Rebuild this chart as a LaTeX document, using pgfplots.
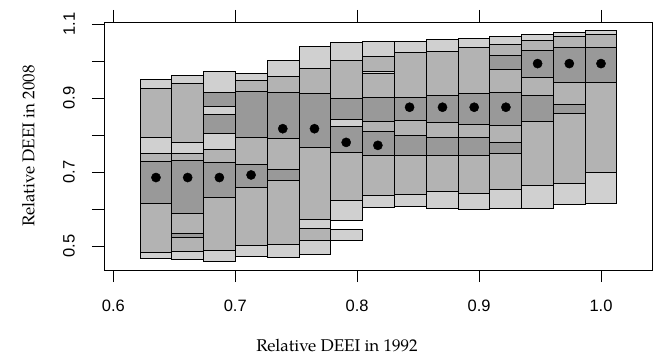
\documentclass[border=0pt]{standalone}
\usepackage{pgfplots}
\pgfplotsset{compat=1.18}
\usepackage{fontspec}
\newfontfamily\labfont{TeX Gyre Pagella}
\newfontfamily\tickfont{Liberation Sans}
\definecolor{cL}{RGB}{208,208,208}
\definecolor{cM}{RGB}{179,179,179}
\definecolor{cD}{RGB}{153,153,153}
\newcommand{\rect}[5]{\addplot[fill=#1,draw=black,line width=0.9pt] coordinates {(#2,#4) (#3,#4) (#3,#5) (#2,#5)} -- cycle;}
\begin{document}
\begin{tikzpicture}
\useasboundingbox (-104pt,-90pt) rectangle (550pt,270pt);
\begin{axis}[
  at={(0pt,0pt)}, anchor=south west,
  scale only axis, width=548pt, height=248pt,
  xmin=0.59237, xmax=1.04183, ymin=0.43505, ymax=1.1054,
  clip=false,
  axis line style={line width=0.9pt},
  xtick={0.6,0.7,0.8,0.9,1.0},
  xticklabels={0.6,0.7,0.8,0.9,1.0},
  ytick={0.5,0.6,0.7,0.8,0.9,1.0,1.1},
  yticklabels={0.5,,0.7,,0.9,,1.1},
  xtick pos=both, xticklabel pos=bottom,
  ytick pos=left,
  tick align=outside,
  major tick length=12pt,
  tick style={black, line width=0.9pt},
  xticklabel style={font=\tickfont\fontsize{16.5}{18}\selectfont, inner sep=0pt, anchor=north, yshift=-18pt},
  yticklabel style={font=\tickfont\fontsize{16.5}{18}\selectfont, rotate=90, inner sep=0pt, anchor=south, yshift=17pt},
]
% column 1
\rect{cL}{0.6220}{0.6480}{0.949}{0.927}
\rect{cM}{0.6220}{0.6480}{0.927}{0.794}
\rect{cL}{0.6220}{0.6480}{0.794}{0.751}
\rect{cM}{0.6220}{0.6480}{0.751}{0.728}
\rect{cD}{0.6220}{0.6480}{0.728}{0.614}
\rect{cM}{0.6220}{0.6480}{0.614}{0.483}
\rect{cL}{0.6220}{0.6480}{0.483}{0.467}
% column 2
\rect{cL}{0.6480}{0.6741}{0.961}{0.938}
\rect{cM}{0.6480}{0.6741}{0.938}{0.781}
\rect{cL}{0.6480}{0.6741}{0.781}{0.751}
\rect{cM}{0.6480}{0.6741}{0.751}{0.730}
\rect{cD}{0.6480}{0.6741}{0.730}{0.588}
\rect{cM}{0.6480}{0.6741}{0.588}{0.534}
\rect{cD}{0.6480}{0.6741}{0.534}{0.523}
\rect{cM}{0.6480}{0.6741}{0.523}{0.485}
\rect{cL}{0.6480}{0.6741}{0.485}{0.464}
% column 3
\rect{cL}{0.6741}{0.7002}{0.972}{0.915}
\rect{cD}{0.6741}{0.7002}{0.915}{0.877}
\rect{cL}{0.6741}{0.7002}{0.877}{0.855}
\rect{cD}{0.6741}{0.7002}{0.855}{0.803}
\rect{cL}{0.6741}{0.7002}{0.803}{0.760}
\rect{cM}{0.6741}{0.7002}{0.760}{0.725}
\rect{cD}{0.6741}{0.7002}{0.725}{0.632}
\rect{cM}{0.6741}{0.7002}{0.632}{0.487}
\rect{cL}{0.6741}{0.7002}{0.487}{0.459}
% column 4
\rect{cL}{0.7002}{0.7263}{0.967}{0.947}
\rect{cM}{0.7002}{0.7263}{0.947}{0.919}
\rect{cD}{0.7002}{0.7263}{0.919}{0.794}
\rect{cM}{0.7002}{0.7263}{0.794}{0.721}
\rect{cD}{0.7002}{0.7263}{0.721}{0.658}
\rect{cM}{0.7002}{0.7263}{0.658}{0.501}
\rect{cL}{0.7002}{0.7263}{0.501}{0.471}
% column 5
\rect{cL}{0.7263}{0.7523}{1.001}{0.958}
\rect{cM}{0.7263}{0.7523}{0.958}{0.916}
\rect{cD}{0.7263}{0.7523}{0.916}{0.790}
\rect{cM}{0.7263}{0.7523}{0.790}{0.708}
\rect{cD}{0.7263}{0.7523}{0.708}{0.677}
\rect{cM}{0.7263}{0.7523}{0.677}{0.505}
\rect{cL}{0.7263}{0.7523}{0.505}{0.468}
% column 6
\rect{cL}{0.7523}{0.7784}{1.039}{0.979}
\rect{cM}{0.7523}{0.7784}{0.979}{0.913}
\rect{cD}{0.7523}{0.7784}{0.913}{0.767}
\rect{cM}{0.7523}{0.7784}{0.767}{0.573}
\rect{cL}{0.7523}{0.7784}{0.573}{0.548}
\rect{cM}{0.7523}{0.7784}{0.548}{0.514}
\rect{cL}{0.7523}{0.7784}{0.514}{0.478}
% column 7
\rect{cL}{0.7784}{0.8045}{1.049}{1.001}
\rect{cM}{0.7784}{0.8045}{1.001}{0.900}
\rect{cD}{0.7784}{0.8045}{0.900}{0.841}
\rect{cL}{0.7784}{0.8045}{0.841}{0.823}
\rect{cD}{0.7784}{0.8045}{0.823}{0.754}
\rect{cM}{0.7784}{0.8045}{0.754}{0.624}
\rect{cL}{0.7784}{0.8045}{0.624}{0.569}
\rect{cL}{0.7784}{0.8045}{0.545}{0.516}
% column 8
\rect{cL}{0.8045}{0.8305}{1.053}{1.013}
\rect{cM}{0.8045}{0.8305}{1.013}{0.972}
\rect{cL}{0.8045}{0.8305}{0.972}{0.965}
\rect{cM}{0.8045}{0.8305}{0.965}{0.901}
\rect{cD}{0.8045}{0.8305}{0.901}{0.836}
\rect{cM}{0.8045}{0.8305}{0.836}{0.809}
\rect{cD}{0.8045}{0.8305}{0.809}{0.746}
\rect{cM}{0.8045}{0.8305}{0.746}{0.636}
\rect{cL}{0.8045}{0.8305}{0.636}{0.604}
% column 9
\rect{cL}{0.8305}{0.8566}{1.053}{1.024}
\rect{cM}{0.8305}{0.8566}{1.024}{0.901}
\rect{cD}{0.8305}{0.8566}{0.901}{0.839}
\rect{cM}{0.8305}{0.8566}{0.839}{0.800}
\rect{cD}{0.8305}{0.8566}{0.800}{0.746}
\rect{cM}{0.8305}{0.8566}{0.746}{0.638}
\rect{cL}{0.8305}{0.8566}{0.638}{0.608}
% column 10
\rect{cL}{0.8566}{0.8827}{1.058}{1.026}
\rect{cM}{0.8566}{0.8827}{1.026}{0.906}
\rect{cD}{0.8566}{0.8827}{0.906}{0.835}
\rect{cM}{0.8566}{0.8827}{0.835}{0.794}
\rect{cD}{0.8566}{0.8827}{0.794}{0.746}
\rect{cM}{0.8566}{0.8827}{0.746}{0.647}
\rect{cL}{0.8566}{0.8827}{0.647}{0.602}
% column 11
\rect{cL}{0.8827}{0.9088}{1.060}{1.037}
\rect{cM}{0.8827}{0.9088}{1.037}{0.911}
\rect{cD}{0.8827}{0.9088}{0.911}{0.829}
\rect{cM}{0.8827}{0.9088}{0.829}{0.794}
\rect{cD}{0.8827}{0.9088}{0.794}{0.744}
\rect{cM}{0.8827}{0.9088}{0.744}{0.641}
\rect{cL}{0.8827}{0.9088}{0.641}{0.600}
% column 12
\rect{cL}{0.9088}{0.9348}{1.065}{1.046}
\rect{cM}{0.9088}{0.9348}{1.046}{1.015}
\rect{cD}{0.9088}{0.9348}{1.015}{0.976}
\rect{cM}{0.9088}{0.9348}{0.976}{0.915}
\rect{cD}{0.9088}{0.9348}{0.915}{0.825}
\rect{cM}{0.9088}{0.9348}{0.825}{0.781}
\rect{cD}{0.9088}{0.9348}{0.781}{0.751}
\rect{cM}{0.9088}{0.9348}{0.751}{0.654}
\rect{cL}{0.9088}{0.9348}{0.654}{0.602}
% column 13
\rect{cL}{0.9348}{0.9609}{1.071}{1.055}
\rect{cM}{0.9348}{0.9609}{1.055}{1.029}
\rect{cD}{0.9348}{0.9609}{1.029}{0.956}
\rect{cM}{0.9348}{0.9609}{0.956}{0.907}
\rect{cD}{0.9348}{0.9609}{0.907}{0.836}
\rect{cM}{0.9348}{0.9609}{0.836}{0.663}
\rect{cL}{0.9348}{0.9609}{0.663}{0.602}
% column 14
\rect{cL}{0.9609}{0.9870}{1.076}{1.065}
\rect{cM}{0.9609}{0.9870}{1.065}{1.037}
\rect{cD}{0.9609}{0.9870}{1.037}{0.942}
\rect{cM}{0.9609}{0.9870}{0.942}{0.883}
\rect{cD}{0.9609}{0.9870}{0.883}{0.857}
\rect{cM}{0.9609}{0.9870}{0.857}{0.670}
\rect{cL}{0.9609}{0.9870}{0.670}{0.611}
% column 15
\rect{cL}{0.9870}{1.0130}{1.082}{1.071}
\rect{cM}{0.9870}{1.0130}{1.071}{1.037}
\rect{cD}{0.9870}{1.0130}{1.037}{0.942}
\rect{cM}{0.9870}{1.0130}{0.942}{0.699}
\rect{cL}{0.9870}{1.0130}{0.699}{0.614}
% medians
\addplot[only marks, mark=*, mark size=4.6pt, black] coordinates {
(0.635,0.685) (0.661,0.685) (0.687,0.685) (0.713,0.692) (0.739,0.817)
(0.765,0.817) (0.791,0.780) (0.817,0.772) (0.843,0.875) (0.870,0.875)
(0.896,0.875) (0.922,0.875) (0.948,0.993) (0.974,0.993) (1.000,0.993)};
\node[font=\labfont\fontsize{17}{20}\selectfont] at ([yshift=-75pt]rel axis cs:0.425,0) {Relative DEEI in 1992};
\node[font=\labfont\fontsize{17}{20}\selectfont, rotate=90] at ([xshift=-75.5pt]rel axis cs:0,0.5) {Relative DEEI in 2008};
\end{axis}
\end{tikzpicture}
\end{document}
